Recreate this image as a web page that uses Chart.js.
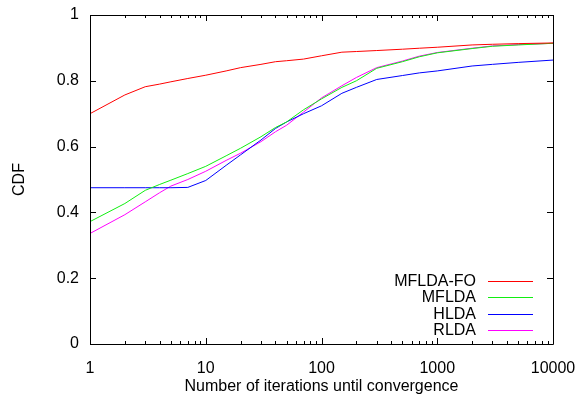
<!DOCTYPE html>
<html>
<head>
<meta charset="utf-8">
<script src="https://cdn.jsdelivr.net/npm/chart.js@4"></script>
<style>
  html, body { margin: 0; padding: 0; background: #fff; }
  #wrap { width: 581px; height: 399px; }
</style>
</head>
<body>
<div id="wrap"><canvas id="cdf-chart" width="581" height="399"></canvas></div>
<script>
// iterations (x, log scale) shared by all series
var iterations = [1, 2, 3, 4, 5, 7, 10, 15, 20, 30, 40, 50, 70, 100, 150, 200, 300, 500, 700, 1000, 2000, 3000, 5000, 10000];

var mfldaFo = [0.700, 0.757, 0.782, 0.790, 0.797, 0.807, 0.817, 0.830, 0.840, 0.850, 0.858, 0.861, 0.866, 0.876, 0.887, 0.889, 0.892, 0.896, 0.899, 0.902, 0.909, 0.911, 0.913, 0.915];
var mflda   = [0.372, 0.427, 0.467, 0.485, 0.498, 0.518, 0.540, 0.572, 0.595, 0.630, 0.658, 0.675, 0.712, 0.745, 0.780, 0.800, 0.838, 0.858, 0.873, 0.885, 0.898, 0.905, 0.909, 0.914];
var hlda    = [0.475, 0.475, 0.475, 0.475, 0.475, 0.476, 0.497, 0.543, 0.575, 0.620, 0.655, 0.675, 0.700, 0.724, 0.762, 0.780, 0.804, 0.816, 0.824, 0.830, 0.845, 0.850, 0.856, 0.863];
var rlda    = [0.336, 0.393, 0.432, 0.460, 0.480, 0.500, 0.525, 0.558, 0.580, 0.615, 0.645, 0.665, 0.705, 0.748, 0.785, 0.810, 0.840, 0.860, 0.875, 0.886, 0.899, 0.906, 0.910, 0.914];

var xTicks = [1, 10, 100, 1000, 10000];
var yTicks = [0, 0.2, 0.4, 0.6, 0.8, 1];

function toPoints(ys) {
  return iterations.map(function(x, i) { return { x: x, y: ys[i] }; });
}

function series(label, color, ys) {
  return {
    label: label,
    data: toPoints(ys),
    borderColor: color,
    backgroundColor: color,
    borderWidth: 1,
    pointRadius: 0,
    tension: 0,
    fill: false
  };
}

// gnuplot style frame with inward ticks on all four sides
var framePlugin = {
  id: 'frame',
  afterDraw: function(chart) {
    var ctx = chart.ctx;
    var a = chart.chartArea;
    var xs = chart.scales.x, ys = chart.scales.y;
    ctx.save();
    ctx.strokeStyle = '#000';
    ctx.lineWidth = 1;
    ctx.beginPath();
    ctx.rect(Math.round(a.left) + 0.5, Math.round(a.top) + 0.5, Math.round(a.right - a.left), Math.round(a.bottom - a.top));
    ctx.stroke();

    ctx.beginPath();
    yTicks.forEach(function(v) {
      var py = Math.round(ys.getPixelForValue(v)) + 0.5;
      ctx.moveTo(a.left, py); ctx.lineTo(a.left + 6, py);
      ctx.moveTo(a.right, py); ctx.lineTo(a.right - 6, py);
    });
    for (var d = 1; d <= 10000; d *= 10) {
      for (var k = 1; k <= 9; k++) {
        var v = d * k;
        if (v > 10000) break;
        var len = k === 1 ? 6 : 3;
        var px = Math.round(xs.getPixelForValue(v)) + 0.5;
        ctx.moveTo(px, a.bottom); ctx.lineTo(px, a.bottom - len);
        ctx.moveTo(px, a.top); ctx.lineTo(px, a.top + len);
      }
    }
    ctx.stroke();

    // legend: text right aligned, sample line to the right
    ctx.font = '16px "Liberation Sans", Arial, sans-serif';
    ctx.textAlign = 'right';
    ctx.textBaseline = 'middle';
    chart.data.datasets.forEach(function(ds, i) {
      var ly = 280.5 + i * 16.5;
      ctx.fillStyle = '#000';
      ctx.fillText(ds.label, 476, ly + 1);
      ctx.strokeStyle = ds.borderColor;
      ctx.beginPath();
      ctx.moveTo(488, Math.round(ly) + 0.5);
      ctx.lineTo(533, Math.round(ly) + 0.5);
      ctx.stroke();
    });
    ctx.restore();
  }
};

var cdfChart = new Chart(document.getElementById('cdf-chart'), {
  type: 'line',
  data: {
    datasets: [
      series('MFLDA-FO', '#ff0000', mfldaFo),
      series('MFLDA', '#11ee11', mflda),
      series('HLDA', '#0000ff', hlda),
      series('RLDA', '#ff00ff', rlda)
    ]
  },
  options: {
    responsive: false,
    animation: false,
    layout: { padding: { left: 0, right: 28, top: 15, bottom: 0 } },
    plugins: { legend: { display: false }, tooltip: { enabled: false } },
    scales: {
      x: {
        type: 'logarithmic',
        min: 1,
        max: 10000,
        grid: { display: false, drawTicks: false },
        border: { display: false },
        afterBuildTicks: function(scale) {
          scale.ticks = xTicks.map(function(v) { return { value: v }; });
        },
        afterFit: function(scale) {
          scale.height = 55;
          scale.paddingLeft = 0;
          scale.paddingRight = 0;
        },
        ticks: {
          autoSkip: false,
          maxRotation: 0,
          padding: 15,
          color: '#000',
          font: { family: 'Liberation Sans', size: 16 },
          callback: function(v) { return String(v); }
        },
        title: {
          display: true,
          text: 'Number of iterations until convergence',
          color: '#000',
          font: { family: 'Liberation Sans', size: 16 },
          padding: { top: 0, bottom: 3 }
        }
      },
      y: {
        min: 0,
        max: 1,
        grid: { display: false, drawTicks: false },
        border: { display: false },
        afterBuildTicks: function(scale) {
          scale.ticks = yTicks.map(function(v) { return { value: v }; });
        },
        afterFit: function(scale) {
          scale.width = 90;
          scale.paddingTop = 0;
          scale.paddingBottom = 0;
        },
        ticks: {
          padding: 11,
          color: '#000',
          font: { family: 'Liberation Sans', size: 16 },
          callback: function(v) { return String(v); }
        },
        title: {
          display: true,
          text: 'CDF',
          color: '#000',
          font: { family: 'Liberation Sans', size: 16 },
          padding: { top: 10, bottom: 0 }
        }
      }
    }
  },
  plugins: [framePlugin]
});
</script>
</body>
</html>
